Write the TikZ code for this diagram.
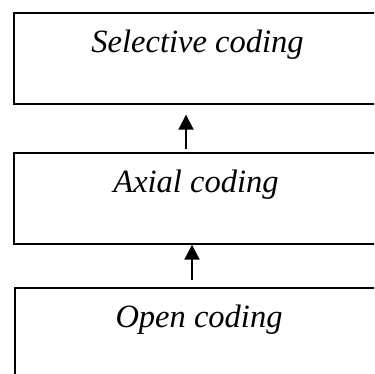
\documentclass[tikz,border=0pt]{standalone}
\usepackage{fontspec}
\setmainfont{Liberation Serif}
\usetikzlibrary{arrows.meta}
\begin{document}
\begin{tikzpicture}[x=1pt,y=1pt,
  box/.style={draw=black,line width=1.7pt,rectangle,inner sep=0pt,anchor=north west},
  lbl/.style={anchor=base,font=\fontsize{32.5}{36}\selectfont\itshape,inner sep=0pt},
  arr/.style={line width=2pt,-{Triangle[width=15pt,length=15pt]}}]
\useasboundingbox (0,0) rectangle (374,-374);
\clip (0,0) rectangle (374,-374);
\node[box,minimum width=400pt,minimum height=91pt] (sel) at (13,-12) {};
\node[box,minimum width=400pt,minimum height=91pt] (ax) at (13,-152) {};
\node[box,minimum width=400pt,minimum height=140pt] (open) at (14,-287) {};
\node[lbl] (tsel) at (197.5,-53) {Selective coding};
\node[lbl] (tax) at (196,-192) {Axial coding};
\node[lbl] (topen) at (199,-327) {Open coding};
\coordinate (a1) at (186,0);
\coordinate (a2) at (192,0);
\draw[arr,shorten <=3pt,shorten >=10pt] (ax.north -| a1) -- (sel.south -| a1);
\draw[arr,shorten <=7pt] (open.north -| a2) -- (ax.south -| a2);
\end{tikzpicture}
\end{document}
